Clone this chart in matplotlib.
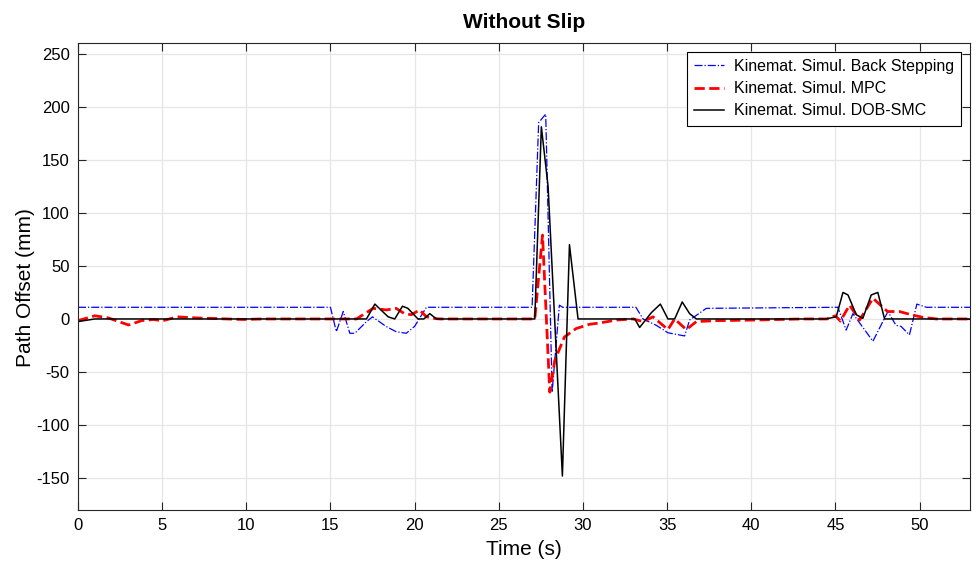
import numpy as np
import matplotlib
matplotlib.use("Agg")
import matplotlib.pyplot as plt

# === Data (time in s, offset in mm) ===
t_bs = [0, 15.0, 15.35, 15.76, 16.15, 16.45, 17.14, 17.5, 18.3, 18.9, 19.5,
        20.0, 20.7, 26.98, 27.37, 27.79, 28.17, 28.6, 28.8, 33.15, 33.57,
        34.36, 35.05, 36.04, 36.34, 37.33, 45.15, 45.64, 46.04, 47.23, 48.12,
        48.6, 48.9, 49.4, 49.84, 50.4, 53]
y_bs = [11, 11, -12, 7, -13.5, -13.5, -2.5, 2, -7, -12, -13.5,
        -7, 11, 11, 185, 193, -69, 13, 11, 11, 0,
        -6, -13, -16, -1, 10, 11, -10.5, 5, -21, 7,
        -6, -7, -15, 14, 11, 11]

t_mpc = [0, 1.0, 1.8, 3.0, 3.8, 4.5, 5.0, 5.9, 7.0, 9.8, 11.0, 16.55,
         17.04, 17.54, 18.33, 18.9, 19.4, 19.8, 20.3, 20.7, 21.1, 21.5,
         27.14, 27.6, 28.03, 28.33, 28.9, 29.6, 30.4, 30.9, 32.0, 33.0,
         33.57, 34.16, 35.05, 35.45, 36.14, 36.74, 37.9, 40.3, 43.0, 44.5,
         45.0, 45.3, 45.84, 46.44, 47.23, 48.1, 48.8, 49.5, 50.2, 51.0, 53]
y_mpc = [-1.6, 3, 1, -5.7, -1.5, -0.5, -1.8, 2, 1, -0.5, 0, 0,
         5, 10, 8.5, 10, 5, 4, 8.5, 2, 0.6, 0,
         0, 79, -69, -39, -17, -9, -5, -4, -1, 0,
         -2.5, 2, -10, 0, -10, -2.5, -1.6, -1, 0, 0,
         3, -2, 13, -1, 19.5, 7, 7, 4, 1.5, 0, 0]

t_smc = [0, 1.0, 17.14, 17.64, 18.03, 18.43, 18.82, 19.28, 19.6, 20.2,
         20.55, 20.9, 21.3, 27.14, 27.53, 27.93, 28.78, 29.2, 29.71, 33.08,
         33.37, 34.07, 34.6, 35.05, 35.45, 35.9, 36.34, 36.74, 44.4, 45.05,
         45.45, 45.75, 46.24, 46.63, 47.13, 47.52, 47.92, 53]
y_smc = [-2.5, 0, 0, 14, 8, 2, 0, 12, 10, 0,
         0, 5, 0, 0, 181, 125, -148, 70, 0, 0,
         -8, 6, 14, 0, 0, 16, 5, 0, 0, 2,
         25, 22.6, 4, 0.6, 22.6, 25, 0, 0]

x_ticks = np.arange(0, 51, 5)
y_ticks = np.arange(-150, 251, 50)

# === Plot ===
plt.rcParams['font.family'] = ['Liberation Sans', 'DejaVu Sans']
plt.rcParams['axes.unicode_minus'] = False

fig = plt.figure(figsize=(9.76, 5.67), dpi=100)
ax = fig.add_axes([0.0799, 0.1005, 0.9140, 0.8237])

ax.plot(t_bs, y_bs, '-.', color=(0, 0, 1), linewidth=0.9,
        label='Kinemat. Simul. Back Stepping')
ax.plot(t_mpc, y_mpc, '--', color=(1, 0, 0), linewidth=2.0,
        label='Kinemat. Simul. MPC')
ax.plot(t_smc, y_smc, '-', color='black', linewidth=1.1,
        label='Kinemat. Simul. DOB-SMC')

ax.set_xlim(0, 53)
ax.set_ylim(-180, 260)
ax.set_xticks(x_ticks)
ax.set_yticks(y_ticks)
ax.grid(True, color=(0.9, 0.9, 0.9), linewidth=0.9)
ax.set_axisbelow(True)

ax.tick_params(direction='in', length=6, width=0.8, top=True, right=True,
               labelsize=12, pad=6, colors=(0.15, 0.15, 0.15),
               labelcolor='black')
for sp in ax.spines.values():
    sp.set_color((0.15, 0.15, 0.15))
    sp.set_linewidth(0.8)

ax.set_xlabel('Time (s)', fontsize=15, labelpad=5)
ax.set_ylabel('Path Offset (mm)', fontsize=15)
ax.yaxis.set_label_coords(-0.048, 0.477)
ax.set_title('Without Slip', fontsize=15, fontweight='bold', pad=11)

leg = ax.legend(loc='upper right', fontsize=11.5, fancybox=False,
                framealpha=1, edgecolor='black', borderaxespad=0.55,
                handlelength=1.9, handletextpad=0.6, labelspacing=0.45,
                borderpad=0.45)
leg.get_frame().set_linewidth(0.8)

fig.savefig('out.png', dpi=100)
